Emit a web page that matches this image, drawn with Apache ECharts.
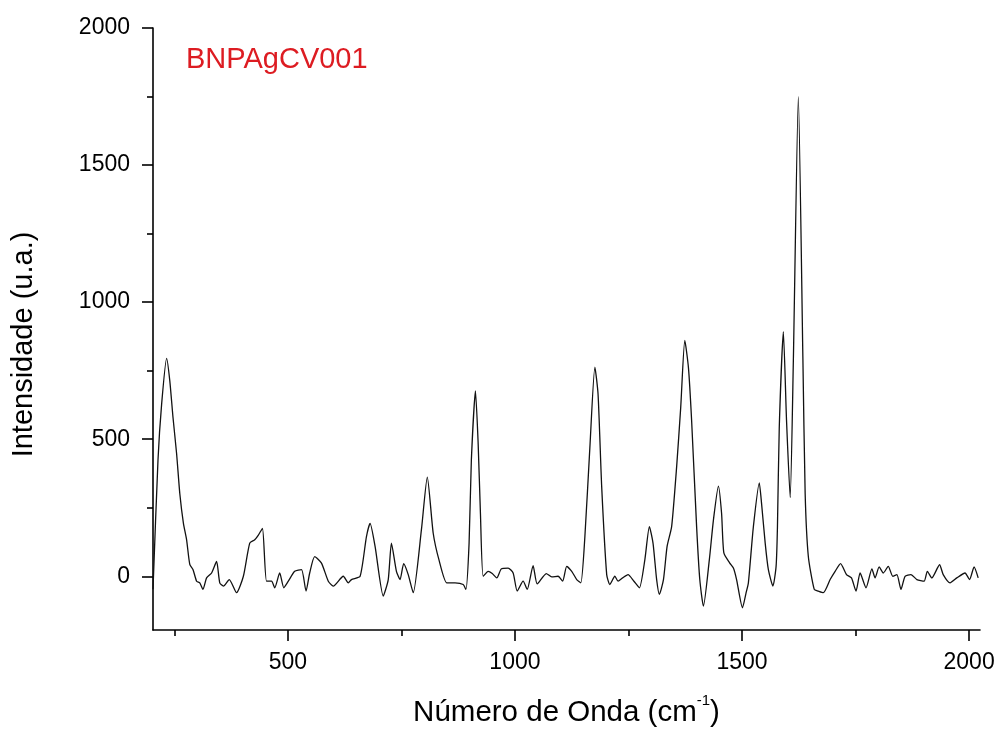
<!DOCTYPE html>
<html>
<head>
<meta charset="utf-8">
<title>BNPAgCV001 – Espectro Raman</title>
<script src="https://cdn.jsdelivr.net/npm/echarts@6/dist/echarts.min.js"></script>
<style>
  html, body { margin: 0; padding: 0; background: #ffffff; }
  #chart { width: 1001px; height: 733px; }
</style>
</head>
<body>
<div id="chart"></div>
<script>
// Raman spectrum of sample BNPAgCV001: wavenumber (cm-1) and intensity (a.u.)
const waveNumber = [
  203, 214, 222, 233, 240, 247, 255, 262, 270, 277, 284, 291, 299, 306, 313, 321,
  332, 343, 350, 358, 371, 387, 402, 416, 427, 435, 444, 453, 464, 471, 482, 491,
  501, 515, 530, 540, 548, 559, 574, 589, 600, 622, 633, 640, 659, 673, 681, 692,
  710, 721, 728, 739, 747, 755, 765, 776, 794, 807, 820, 833, 850, 868, 886, 892,
  899, 904, 913, 919, 924, 930, 941, 950, 960, 970, 985, 996, 1005, 1018, 1027, 1040,
  1049, 1069, 1081, 1095, 1105, 1114, 1125, 1136, 1145, 1154, 1165, 1176, 1183, 1191, 1202, 1209,
  1220, 1227, 1237, 1249, 1262, 1274, 1286, 1296, 1304, 1312, 1318, 1327, 1335, 1345, 1356, 1365,
  1374, 1382, 1389, 1400, 1407, 1415, 1428, 1437, 1448, 1455, 1460, 1473, 1481, 1488, 1501, 1509,
  1514, 1525, 1538, 1543, 1551, 1558, 1568, 1575, 1578, 1582, 1591, 1598, 1606, 1613, 1624, 1634,
  1639, 1646, 1659, 1668, 1679, 1694, 1705, 1717, 1730, 1741, 1751, 1760, 1773, 1786, 1793, 1802,
  1811, 1822, 1832, 1841, 1850, 1859, 1872, 1885, 1901, 1908, 1918, 1935, 1943, 1958, 1973, 1991,
  2001, 2011, 2020
];
const intensity = [
  -47, 424, 628, 795, 713, 580, 447, 302, 193, 133, 43, 25, -18, -24, -48, -6,
  12, 54, -24, -36, -12, -60, 0, 121, 133, 150, 175, -18, -18, -42, 12, -42,
  -18, 18, 24, -54, 12, 72, 48, -18, -36, 0, -24, -12, 0, 145, 193, 109,
  -72, -12, 121, 18, -12, 46, 6, -60, 169, 362, 157, 58, -24, -24, -30, -48,
  121, 423, 676, 483, 229, 0, 18, 10, -6, 27, 30, 12, -54, -18, -48, 39,
  -28, 10, -2, 0, -18, 36, 18, -12, -24, 145, 471, 763, 664, 326, 6, -30,
  0, -18, -6, 6, -18, -42, 60, 181, 121, -12, -66, -12, 109, 181, 399, 616,
  860, 761, 568, 181, -12, -109, 60, 205, 329, 229, 85, 48, 30, -12, -115, -60,
  -24, 181, 341, 266, 121, 24, -36, 36, 181, 543, 892, 568, 287, 785, 1750, 797,
  302, 72, -48, -54, -60, -12, 18, 46, 6, -6, -54, 12, -42, 27, -6, 34,
  12, 36, 0, 6, -48, 0, 6, -12, -18, 18, -6, 42, 6, -24, -6, 12,
  -12, 34, -6
];

// Axis ticks
const xMajorTicks = [500, 1000, 1500, 2000];
const xMinorTicks = [250, 750, 1250, 1750];
const yMajorTicks = [0, 500, 1000, 1500, 2000];
const yMinorTicks = [250, 750, 1250, 1750];

const sampleName = 'BNPAgCV001';
const xTitle = 'Número de Onda (cm';
const xTitleSup = '-1';
const yTitle = 'Intensidade (u.a.)';

const FONT = '"Liberation Sans", Arial, Helvetica, sans-serif';
const X_MIN = 203, X_MAX = 2024, Y_MIN = -196, Y_MAX = 2000;

const points = waveNumber.map((w, i) => [w, intensity[i]]);
const plainNumber = v => String(v);

const chart = echarts.init(document.getElementById('chart'), null, { renderer: 'canvas' });

const axisLineStyle = { color: '#000', width: 1.6 };

chart.setOption({
  animation: false,
  backgroundColor: '#ffffff',
  grid: { left: 153, right: 21, top: 28, bottom: 99, containLabel: false },
  graphic: [{
    type: 'text',
    left: 186,
    top: 45,
    style: {
      text: sampleName,
      font: '29px ' + FONT,
      fill: '#dd1c22'
    }
  }],
  xAxis: [{
    type: 'value',
    min: X_MIN,
    max: X_MAX,
    position: 'bottom',
    name: '{t|' + xTitle + '}{s|' + xTitleSup + '}{t|)}',
    nameLocation: 'middle',
    nameGap: 63,
    nameTextStyle: {
      rich: {
        t: { fontFamily: FONT, fontSize: 29.5, color: '#000', lineHeight: 40 },
        s: { fontFamily: FONT, fontSize: 15, color: '#000', lineHeight: 17, verticalAlign: 'top' }
      }
    },
    axisLine: { show: true, onZero: false, lineStyle: axisLineStyle },
    axisTick: { show: true, inside: false, length: 11, customValues: xMajorTicks, lineStyle: axisLineStyle },
    axisLabel: { show: true, customValues: xMajorTicks, formatter: plainNumber, margin: 21, fontFamily: FONT, fontSize: 23, color: '#000' },
    splitLine: { show: false }
  }, {
    type: 'value',
    min: X_MIN,
    max: X_MAX,
    position: 'bottom',
    axisLine: { show: false, onZero: false },
    axisTick: { show: true, inside: false, length: 6, customValues: xMinorTicks, lineStyle: axisLineStyle },
    axisLabel: { show: false },
    splitLine: { show: false }
  }],
  yAxis: [{
    type: 'value',
    min: Y_MIN,
    max: Y_MAX,
    position: 'left',
    name: yTitle,
    nameLocation: 'middle',
    nameGap: 115,
    nameRotate: 90,
    nameTextStyle: { fontFamily: FONT, fontSize: 29, color: '#000', padding: [0, 31, 0, 0] },
    axisLine: { show: true, onZero: false, lineStyle: axisLineStyle },
    axisTick: { show: true, inside: false, length: 11, customValues: yMajorTicks, lineStyle: axisLineStyle },
    axisLabel: { show: true, customValues: yMajorTicks, formatter: plainNumber, margin: 23, fontFamily: FONT, fontSize: 23, color: '#000' },
    splitLine: { show: false }
  }, {
    type: 'value',
    min: Y_MIN,
    max: Y_MAX,
    position: 'left',
    axisLine: { show: false, onZero: false },
    axisTick: { show: true, inside: false, length: 6, customValues: yMinorTicks, lineStyle: axisLineStyle },
    axisLabel: { show: false },
    splitLine: { show: false }
  }],
  series: [{
    type: 'line',
    xAxisIndex: 0,
    yAxisIndex: 0,
    data: points,
    showSymbol: false,
    smooth: 0.2,
    clip: true,
    lineStyle: { color: '#111', width: 1.3 }
  }]
});
</script>
</body>
</html>
